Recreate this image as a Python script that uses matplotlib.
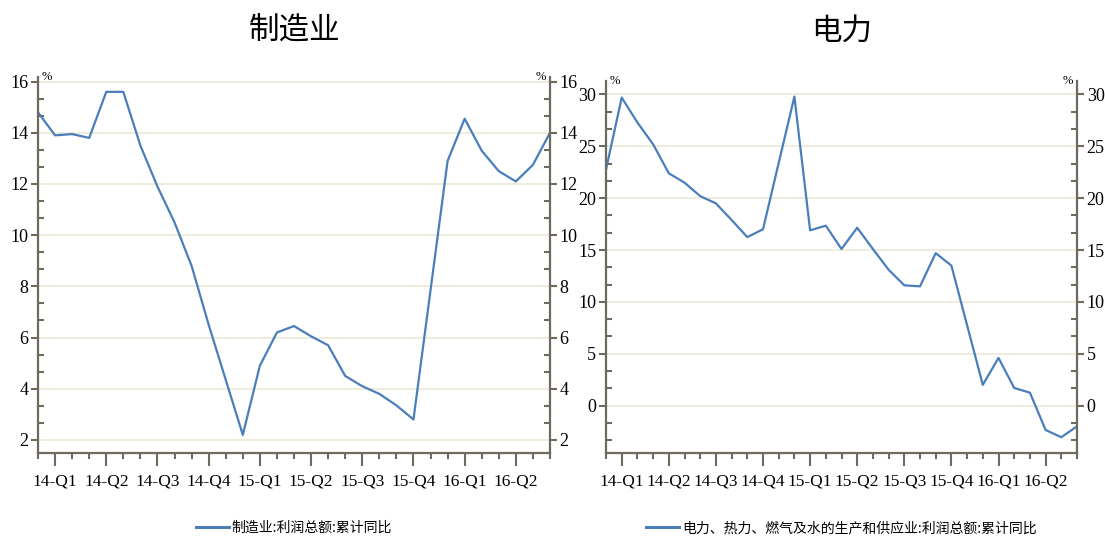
import matplotlib
matplotlib.use('Agg')
import matplotlib.pyplot as plt
from matplotlib.ticker import MultipleLocator, AutoMinorLocator, FixedLocator
from matplotlib.lines import Line2D

# 月份 (1月无数据, 折线直接连接)
months = ['2014-02', '2014-03', '2014-04', '2014-05', '2014-06', '2014-07',
          '2014-08', '2014-09', '2014-10', '2014-11', '2014-12',
          '2015-02', '2015-03', '2015-04', '2015-05', '2015-06', '2015-07',
          '2015-08', '2015-09', '2015-10', '2015-11', '2015-12',
          '2016-02', '2016-03', '2016-04', '2016-05', '2016-06', '2016-07',
          '2016-08']

# 制造业:利润总额:累计同比 (%)
manu = [14.8, 13.9, 13.95, 13.8, 15.6, 15.6, 13.5, 11.9, 10.5, 8.8, 6.5,
        2.2, 4.9, 6.2, 6.45, 6.05, 5.7, 4.5, 4.1, 3.8, 3.35, 2.8,
        12.9, 14.55, 13.3, 12.5, 12.1, 12.75, 14.0]

# 电力、热力、燃气及水的生产和供应业:利润总额:累计同比 (%)
power = [22.75, 29.7, 27.3, 25.2, 22.4, 21.5, 20.2, 19.5, 17.9, 16.25, 17.0,
         29.8, 16.9, 17.35, 15.1, 17.15, 15.1, 13.1, 11.6, 11.5, 14.7, 13.5,
         2.0, 4.6, 1.7, 1.25, -2.35, -3.05, -2.0]

quarter_labels = ['14-Q1', '14-Q2', '14-Q3', '14-Q4', '15-Q1', '15-Q2',
                  '15-Q3', '15-Q4', '16-Q1', '16-Q2']

titles = ['制造业', '电力']
legend_labels = ['制造业:利润总额:累计同比',
                 '电力、热力、燃气及水的生产和供应业:利润总额:累计同比']


def month_pos(m):
    y, mo = m.split('-')
    return (int(y) - 2014) * 12 + int(mo) - 2

x = [month_pos(m) for m in months]
quarter_pos = [month_pos('20%s-%02d' % (q[:2], int(q[-1]) * 3)) for q in quarter_labels]

cjk = ['Noto Sans CJK SC', 'DejaVu Sans']
num_font = ['Liberation Serif', 'DejaVu Serif']

line_color = '#4A7EBB'
spine_color = '#6F6A5E'
grid_color = '#ECE9D8'

fig = plt.figure(figsize=(11.05, 5.4), dpi=100)

W, H = 1105.0, 540.0
boxes = [(38, 550, 77, 453), (606, 1077, 81, 453)]
ylims = [(1.49, 16.18), (-4.57, 31.3)]
ysteps = [2, 5]

for i, (data, box) in enumerate(zip([manu, power], boxes)):
    l, r, t, b = box
    ax = fig.add_axes([l / W, 1 - b / H, (r - l) / W, (b - t) / H])
    ax.plot(x, data, color=line_color, lw=1.6)
    ax.set_xlim(0, 30)
    ax.set_ylim(*ylims[i])

    ax.yaxis.set_major_locator(MultipleLocator(ysteps[i]))
    ax.yaxis.set_minor_locator(AutoMinorLocator(3))
    ax.xaxis.set_major_locator(FixedLocator(quarter_pos))
    ax.xaxis.set_minor_locator(MultipleLocator(1))
    ax.set_xticklabels(quarter_labels)

    ax.grid(axis='y', which='major', color=grid_color, lw=1.2)
    ax.set_axisbelow(True)
    ax.spines['top'].set_visible(False)
    for s in ['left', 'right', 'bottom']:
        ax.spines[s].set_color(spine_color)
        ax.spines[s].set_linewidth(1.6)

    ax.yaxis.set_ticks_position('both')
    ax.tick_params(axis='y', which='major', direction='out', length=5, width=1.5,
                   color=spine_color, labelright=True, pad=2, labelsize=13)
    ax.tick_params(axis='y', which='minor', direction='in', length=4, width=1.5,
                   color=spine_color)
    ax.tick_params(axis='x', which='major', direction='out', length=9, width=1.5,
                   color=spine_color, pad=6, labelsize=12.5)
    ax.tick_params(axis='x', which='minor', direction='out', length=4, width=1.5,
                   color=spine_color)
    for lab in ax.get_xticklabels():
        lab.set_family(num_font)
    for tk in ax.yaxis.get_major_ticks():
        tk.label1.set_family(num_font)
        tk.label2.set_family(num_font)

    ax.text(0.008, 1.0, '%', transform=ax.transAxes, ha='left', va='center',
            fontsize=9, family=num_font)
    ax.text(0.992, 1.0, '%', transform=ax.transAxes, ha='right', va='center',
            fontsize=9, family=num_font)

    cx = (l + r) / 2 / W
    fig.text(cx, 1 - 31 / H, titles[i], ha='center', va='center',
             fontsize=22, family=cjk)

    h = Line2D([], [], color=line_color, lw=2.2)
    fig.legend([h], [legend_labels[i]], loc='center', bbox_to_anchor=(cx, 12 / H),
               frameon=False, handlelength=2.4, handletextpad=0.2,
               prop={'family': cjk, 'size': 10})

fig.savefig('out.png', dpi=100)
